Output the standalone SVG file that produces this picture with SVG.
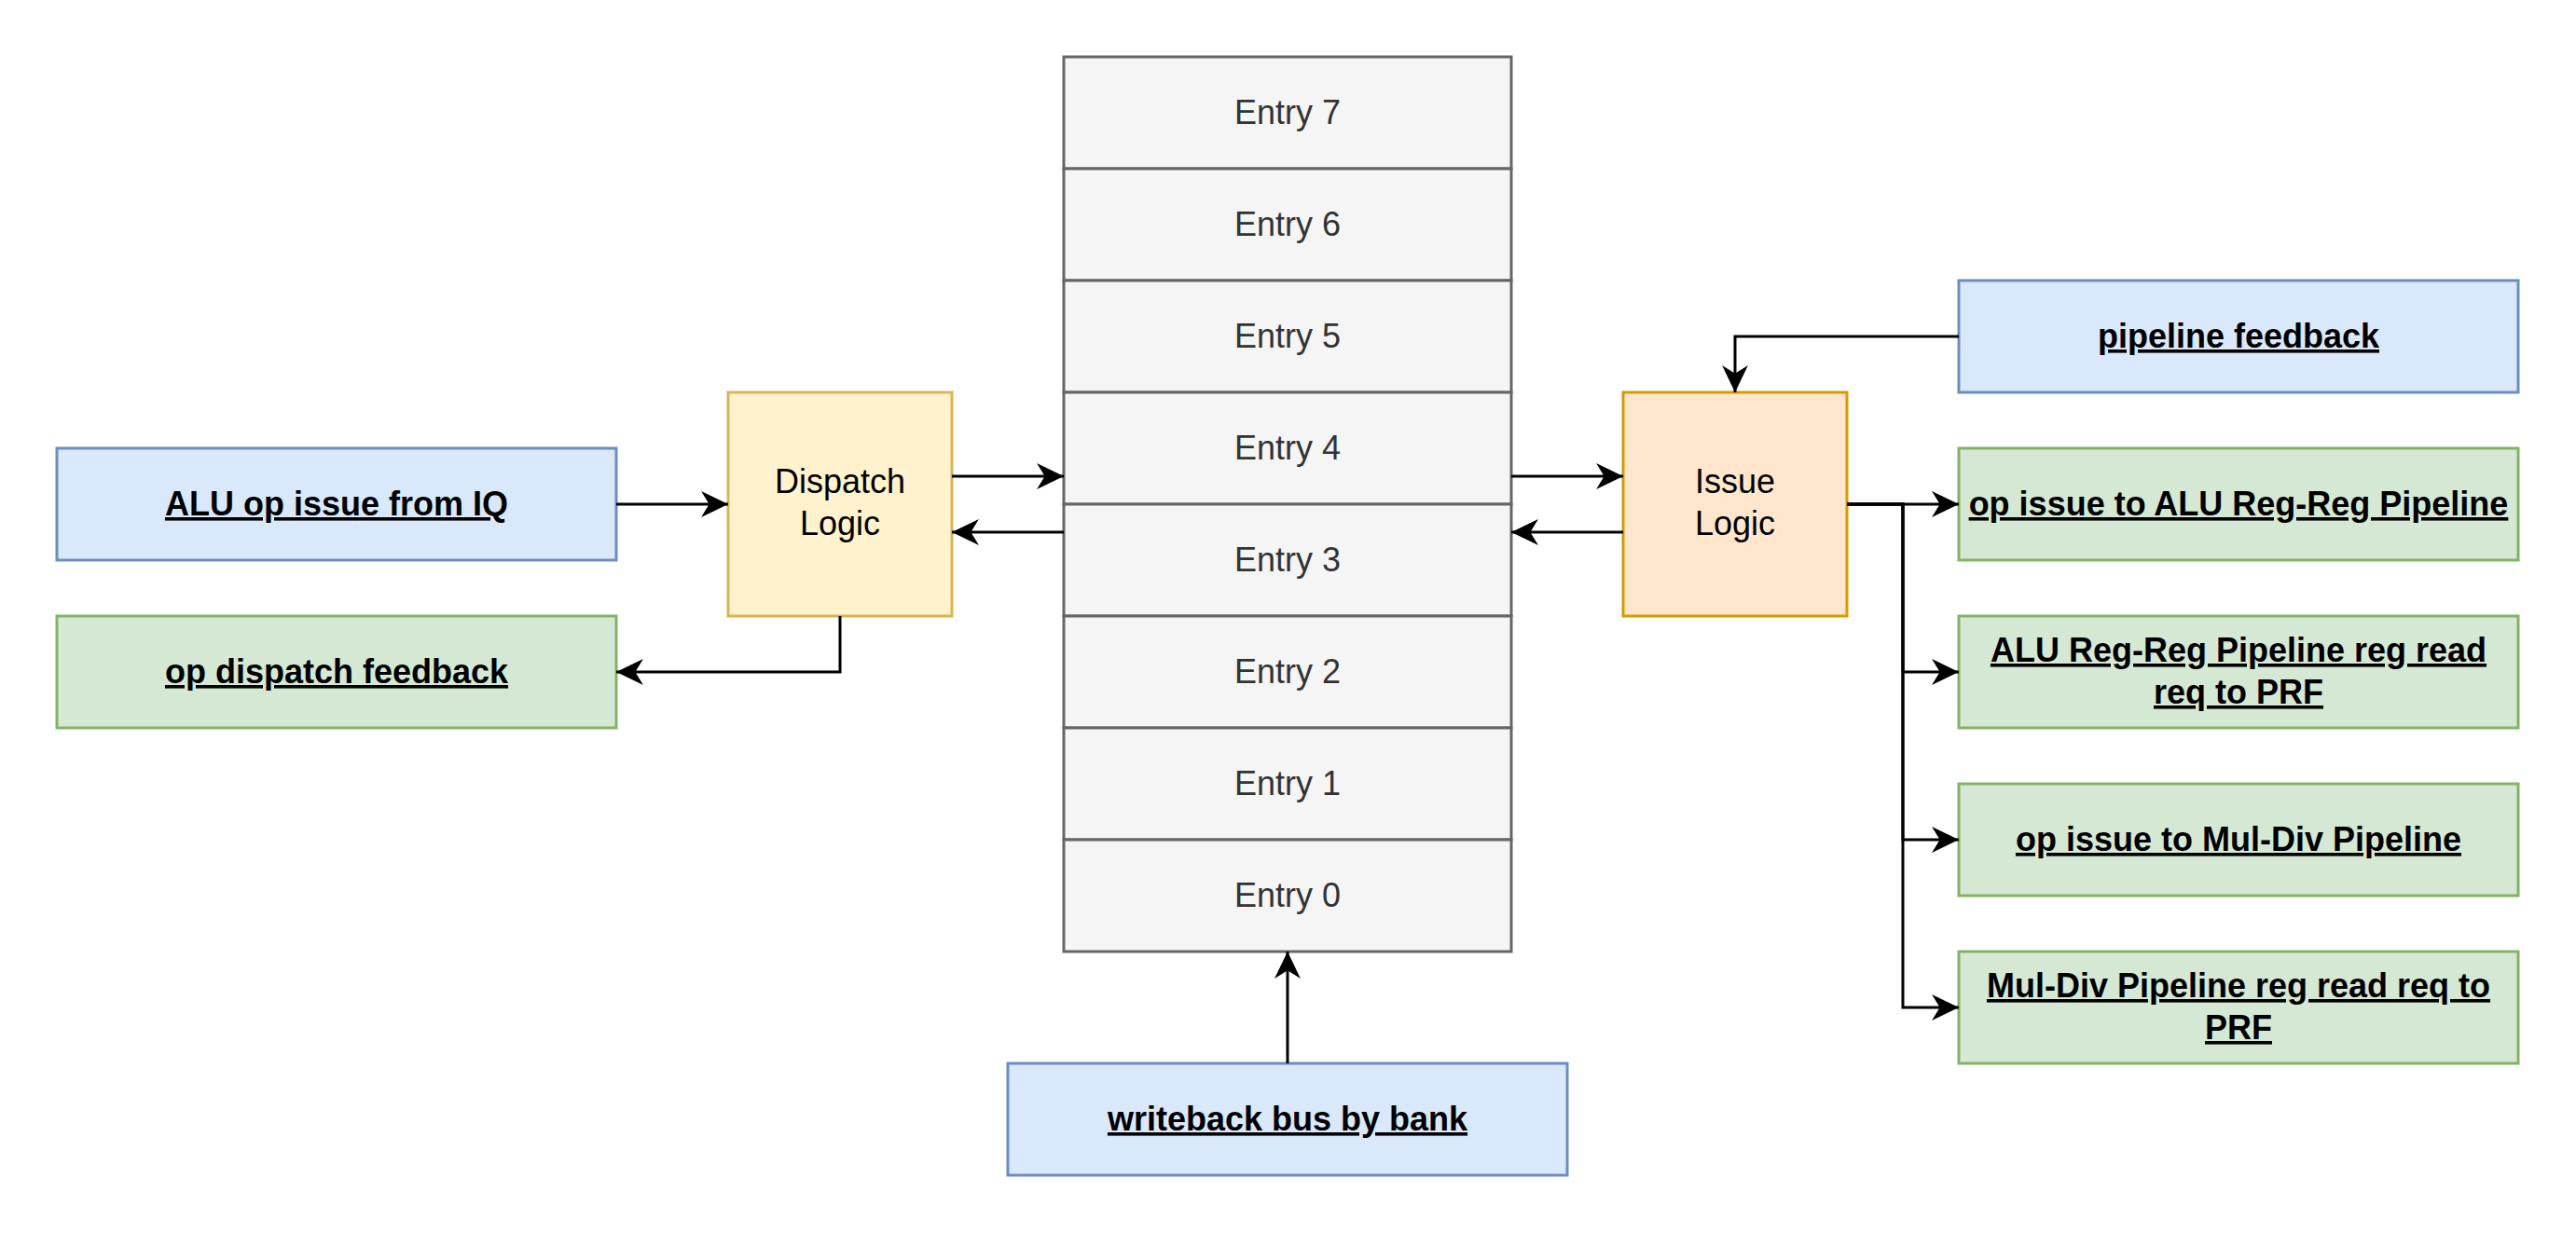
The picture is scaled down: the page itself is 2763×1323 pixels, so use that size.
<svg xmlns="http://www.w3.org/2000/svg" width="2763" height="1323" viewBox="0 0 2763 1323">
<style>
.box{stroke-width:3}
.blue{fill:#dae8fc;stroke:#6c8ebf}
.green{fill:#d5e8d4;stroke:#82b366}
.yellow{fill:#fff2cc;stroke:#d6b656}
.orange{fill:#ffe6cc;stroke:#d79b00}
.entry{fill:#f5f5f5;stroke:#666666;stroke-width:3}
.lbl{font-family:"Liberation Sans",Arial,Helvetica,sans-serif;font-size:36px;font-weight:bold;text-decoration:underline;fill:#000;text-anchor:middle}
.plain{font-family:"Liberation Sans",Arial,Helvetica,sans-serif;font-size:36px;fill:#000;text-anchor:middle}
.etxt{font-family:"Liberation Sans",Arial,Helvetica,sans-serif;font-size:36px;fill:#333333;text-anchor:middle}
.conn{fill:none;stroke:#000;stroke-width:3;marker-end:url(#arrow)}
</style>
<defs>
<marker id="arrow" markerUnits="userSpaceOnUse" markerWidth="30" markerHeight="30" viewBox="0 0 28 28" refX="27" refY="14" orient="auto">
<path d="M27,14 L0,1 L8,14 L0,27 Z" fill="#000"/>
</marker>
</defs>
<rect width="2763" height="1323" fill="#ffffff"/>

<g id="table">
<g id="entry7"><rect class="entry" x="1141" y="61" width="480" height="120"/><text class="etxt" x="1381" y="133">Entry 7</text></g>
<g id="entry6"><rect class="entry" x="1141" y="181" width="480" height="120"/><text class="etxt" x="1381" y="253">Entry 6</text></g>
<g id="entry5"><rect class="entry" x="1141" y="301" width="480" height="120"/><text class="etxt" x="1381" y="373">Entry 5</text></g>
<g id="entry4"><rect class="entry" x="1141" y="421" width="480" height="120"/><text class="etxt" x="1381" y="493">Entry 4</text></g>
<g id="entry3"><rect class="entry" x="1141" y="541" width="480" height="120"/><text class="etxt" x="1381" y="613">Entry 3</text></g>
<g id="entry2"><rect class="entry" x="1141" y="661" width="480" height="120"/><text class="etxt" x="1381" y="733">Entry 2</text></g>
<g id="entry1"><rect class="entry" x="1141" y="781" width="480" height="120"/><text class="etxt" x="1381" y="853">Entry 1</text></g>
<g id="entry0"><rect class="entry" x="1141" y="901" width="480" height="120"/><text class="etxt" x="1381" y="973">Entry 0</text></g>
</g>

<g id="alu-op-issue"><rect class="box blue" x="61" y="481" width="600" height="120"/><text class="lbl" x="361" y="553">ALU op issue from IQ</text></g>
<g id="op-dispatch-feedback"><rect class="box green" x="61" y="661" width="600" height="120"/><text class="lbl" x="361" y="733">op dispatch feedback</text></g>
<g id="dispatch-logic"><rect class="box yellow" x="781" y="421" width="240" height="240"/><text class="plain" x="901" y="529">Dispatch</text><text class="plain" x="901" y="574">Logic</text></g>
<g id="issue-logic"><rect class="box orange" x="1741" y="421" width="240" height="240"/><text class="plain" x="1861" y="529">Issue</text><text class="plain" x="1861" y="574">Logic</text></g>
<g id="pipeline-feedback"><rect class="box blue" x="2101" y="301" width="600" height="120"/><text class="lbl" x="2401" y="373">pipeline feedback</text></g>
<g id="op-issue-alu"><rect class="box green" x="2101" y="481" width="600" height="120"/><text class="lbl" x="2401" y="553">op issue to ALU Reg-Reg Pipeline</text></g>
<g id="alu-reg-read"><rect class="box green" x="2101" y="661" width="600" height="120"/><text class="lbl" x="2401" y="710">ALU Reg-Reg Pipeline reg read</text><text class="lbl" x="2401" y="755">req to PRF</text></g>
<g id="op-issue-muldiv"><rect class="box green" x="2101" y="841" width="600" height="120"/><text class="lbl" x="2401" y="913">op issue to Mul-Div Pipeline</text></g>
<g id="muldiv-reg-read"><rect class="box green" x="2101" y="1021" width="600" height="120"/><text class="lbl" x="2401" y="1070">Mul-Div Pipeline reg read req to</text><text class="lbl" x="2401" y="1115">PRF</text></g>
<g id="writeback-bus"><rect class="box blue" x="1081" y="1141" width="600" height="120"/><text class="lbl" x="1381" y="1213">writeback bus by bank</text></g>

<g id="connectors">
<path class="conn" d="M661,541 H781"/>
<path class="conn" d="M1021,511 H1141"/>
<path class="conn" d="M1141,571 H1021"/>
<path class="conn" d="M901,661 V721 H661"/>
<path class="conn" d="M1621,511 H1741"/>
<path class="conn" d="M1741,571 H1621"/>
<path class="conn" d="M2101,361 H1861 V421"/>
<path class="conn" d="M1981,541 H2101"/>
<path class="conn" d="M1981,541 H2041 V721 H2101"/>
<path class="conn" d="M1981,541 H2041 V901 H2101"/>
<path class="conn" d="M1981,541 H2041 V1081 H2101"/>
<path class="conn" d="M1381,1141 V1021"/>
</g>
</svg>
